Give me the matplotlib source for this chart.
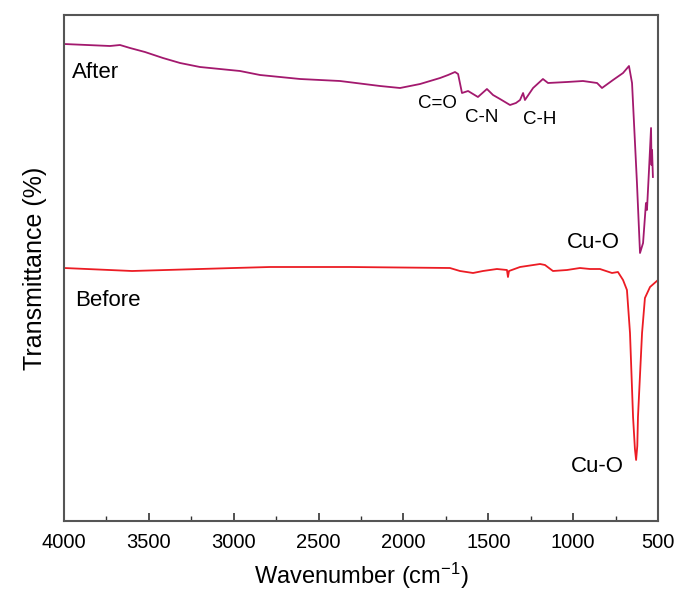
import matplotlib
matplotlib.use("Agg")
import matplotlib.pyplot as plt
from matplotlib.ticker import MultipleLocator

plt.rcParams['font.family'] = ['Liberation Sans', 'DejaVu Sans']
plt.rcParams['mathtext.default'] = 'regular'

# FTIR spectra (wavenumber in cm-1, transmittance in arbitrary offset units)
after_wn = [4000, 3729, 3670, 3611, 3523, 3417, 3316, 3199, 2963, 2845, 2609, 2374,
            2138, 2020, 1902, 1784, 1737, 1696, 1678, 1655, 1619, 1590, 1561, 1508,
            1472, 1431, 1372, 1337, 1313, 1295, 1284, 1236, 1178, 1148, 1036, 942,
            859, 830, 765, 706, 671, 653, 624, 606, 588, 571, 565, 553, 541, 538,
            535, 530]
after_t = [477, 475, 476, 473, 469, 463, 458, 454, 450, 446, 442, 440,
           435, 433, 437, 443, 446, 449, 447, 428, 430, 427, 424, 432,
           426, 422, 416, 418, 421, 428, 421, 433, 442, 438, 439, 440,
           438, 433, 441, 448, 455, 438, 338, 268, 278, 318, 311, 351, 393, 356,
           371, 344]

before_wn = [4000, 3599, 2998, 2786, 2315, 1726, 1667, 1590, 1531, 1449, 1390, 1384,
             1378, 1313, 1195, 1166, 1119, 1036, 960, 901, 842, 771, 736, 706,
             683, 665, 647, 636, 629, 622, 618, 594, 577, 547, 500]
before_t = [253, 250, 253, 254, 254, 253, 250, 248, 250, 252, 251, 244,
            250, 254, 257, 256, 250, 251, 253, 252, 252, 248, 249, 241,
            231, 188, 104, 72, 61, 75, 104, 188, 223, 234, 241]

after_color = '#a3196e'
before_color = '#ec1c24'

fig = plt.figure(figsize=(6.78, 5.90), dpi=100)
ax = fig.add_axes([64 / 678, 1 - 521 / 590, 594 / 678, 506 / 590])

ax.plot(after_wn, after_t, color=after_color, lw=1.3)
ax.plot(before_wn, before_t, color=before_color, lw=1.3)

ax.set_xlim(4000, 500)
ax.set_ylim(0, 506)
ax.xaxis.set_major_locator(MultipleLocator(500))
ax.xaxis.set_minor_locator(MultipleLocator(250))
ax.tick_params(axis='x', which='both', direction='in', top=False, labelsize=14.5,
               color='#333333', pad=9)
ax.tick_params(axis='x', which='major', length=6, width=1.2)
ax.tick_params(axis='x', which='minor', length=3.5, width=1.0)
ax.set_yticks([])
for sp in ax.spines.values():
    sp.set_color('#555555')
    sp.set_linewidth(1.5)

ax.set_xlabel('Wavenumber (cm$^{-1}$)', fontsize=17, labelpad=6)
ax.set_ylabel('Transmittance (%)', fontsize=18, labelpad=12)

# labels
ax.text(3953, 448, 'After', fontsize=16, ha='left', va='center')
ax.text(3935, 221, 'Before', fontsize=16, ha='left', va='center')
ax.text(1802, 418, 'C=O', fontsize=13.5, ha='center', va='center')
ax.text(1537, 404, 'C-N', fontsize=13.5, ha='center', va='center')
ax.text(1195, 401, 'C-H', fontsize=13.5, ha='center', va='center')
ax.text(883, 279, 'Cu-O', fontsize=16, ha='center', va='center')
ax.text(859, 54, 'Cu-O', fontsize=16, ha='center', va='center')

fig.savefig('out.png', dpi=100)
